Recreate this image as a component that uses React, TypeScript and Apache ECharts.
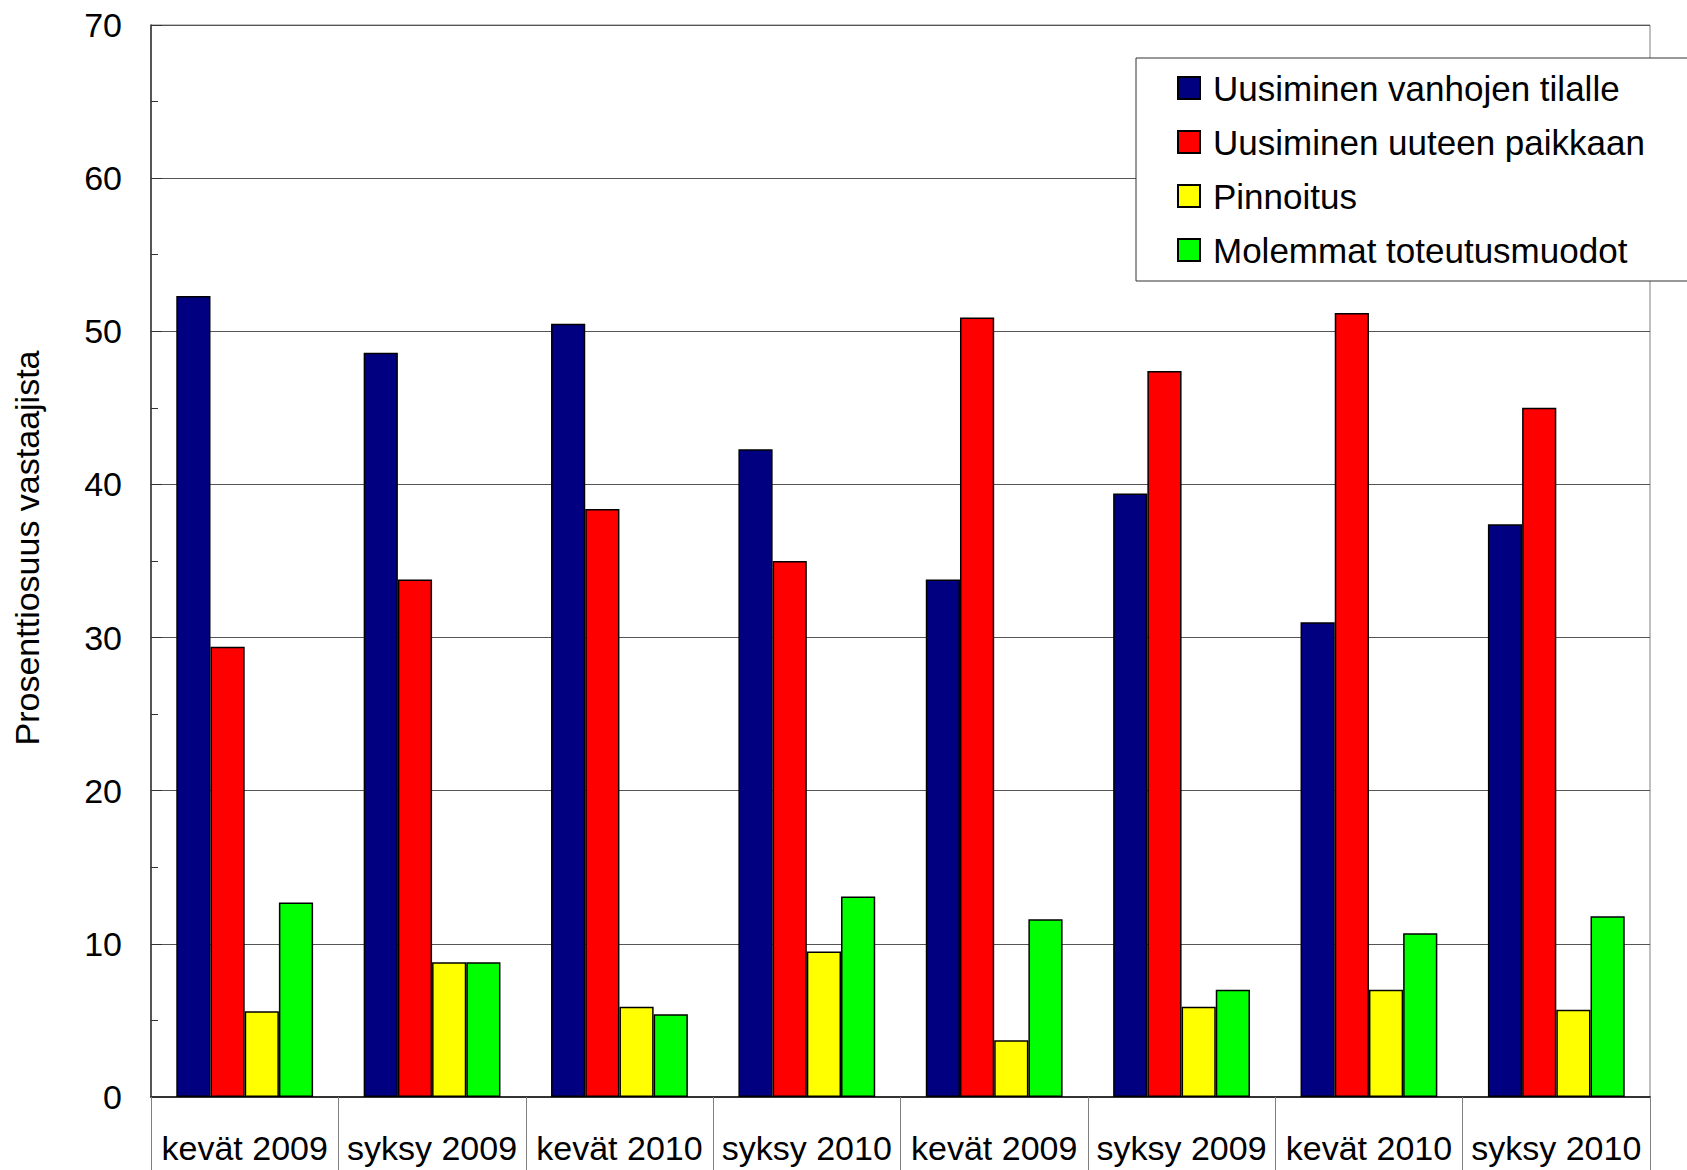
import React, { useEffect, useRef } from "react";
import * as echarts from "echarts";

const categories = [
  "kevät 2009",
  "syksy 2009",
  "kevät 2010",
  "syksy 2010",
  "kevät 2009",
  "syksy 2009",
  "kevät 2010",
  "syksy 2010",
];

const seriesNames = [
  "Uusiminen vanhojen tilalle",
  "Uusiminen uuteen paikkaan",
  "Pinnoitus",
  "Molemmat toteutusmuodot",
];

const vanhojenTilalle = [52.3, 48.6, 50.5, 42.3, 33.8, 39.4, 31.0, 37.4];
const uuteenPaikkaan = [29.4, 33.8, 38.4, 35.0, 50.9, 47.4, 51.2, 45.0];
const pinnoitus = [5.6, 8.8, 5.9, 9.5, 3.7, 5.9, 7.0, 5.7];
const molemmat = [12.7, 8.8, 5.4, 13.1, 11.6, 7.0, 10.7, 11.8];

const colors = ["#000080", "#FF0000", "#FFFF00", "#00FF00"];
const yAxisTitle = "Prosenttiosuus vastaajista";

const FONT = "'Liberation Sans', Arial, sans-serif";

export default function App() {
  const ref = useRef<HTMLDivElement>(null);

  useEffect(() => {
    if (!ref.current) return;
    const chart = echarts.init(ref.current, undefined, { renderer: "svg" });
    const data = [vanhojenTilalle, uuteenPaikkaan, pinnoitus, molemmat];
    chart.setOption({
      animation: false,
      backgroundColor: "#ffffff",
      textStyle: { fontFamily: FONT },
      grid: {
        left: 151,
        top: 25,
        right: 37,
        bottom: 73,
        show: true,
        borderColor: "#808080",
        borderWidth: 1,
        backgroundColor: "transparent",
      },
      legend: {
        orient: "vertical",
        left: 1136,
        top: 58,
        padding: [12, 50, 13, 41],
        backgroundColor: "#ffffff",
        borderColor: "#333333",
        borderWidth: 1,
        itemWidth: 22,
        itemHeight: 22,
        itemGap: 18,
        icon: "rect",
        data: seriesNames,
        textStyle: {
          fontFamily: FONT,
          fontSize: 35,
          lineHeight: 36,
          color: "#000",
          padding: [0, 0, 0, 8],
        },
      },
      xAxis: {
        type: "category",
        data: categories,
        axisLine: { lineStyle: { color: "#333", width: 2 } },
        axisTick: {
          show: true,
          length: 73,
          alignWithLabel: false,
          lineStyle: { color: "#808080", width: 1 },
        },
        axisLabel: {
          fontFamily: FONT,
          fontSize: 34,
          color: "#000",
          margin: 34,
          interval: 0,
        },
      },
      yAxis: {
        type: "value",
        min: 0,
        max: 70,
        interval: 10,
        axisLine: { show: true, lineStyle: { color: "#333", width: 1.5 } },
        axisTick: {
          show: true,
          inside: true,
          length: 11,
          lineStyle: { color: "#333" },
        },
        minorTick: {
          show: true,
          splitNumber: 2,
          length: 7,
          lineStyle: { color: "#333" },
        },
        splitLine: { show: true, lineStyle: { color: "#555", width: 1 } },
        axisLabel: {
          fontFamily: FONT,
          fontSize: 34,
          color: "#000",
          margin: 29,
        },
      },
      graphic: [
        {
          type: "text",
          x: 27,
          y: 548,
          rotation: Math.PI / 2,
          style: {
            text: yAxisTitle,
            fontFamily: FONT,
            fontSize: 34,
            fill: "#000",
            textAlign: "center",
            textVerticalAlign: "middle",
          },
        },
      ],
      series: seriesNames.map((name, i) => ({
        name,
        type: "bar",
        data: data[i],
        barWidth: 34.2,
        barGap: "0%",
        itemStyle: {
          color: colors[i],
          borderColor: "#000",
          borderWidth: 1.5,
        },
      })),
    });
    return () => chart.dispose();
  }, []);

  return (
    <div
      ref={ref}
      style={{ position: "fixed", left: 0, top: 0, width: 1687, height: 1170 }}
    />
  );
}
